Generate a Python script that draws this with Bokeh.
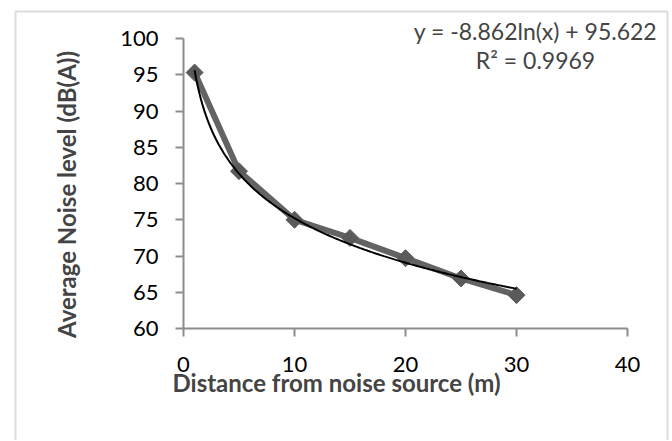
import math
import numpy as np
from bokeh.plotting import figure
from bokeh.models import Range1d, FixedTicker, Label, BoxAnnotation
from bokeh.embed import file_html
from bokeh.resources import INLINE

# data
distance = [1, 5, 10, 15, 20, 25, 30]
noise = [95.3, 81.7, 75.0, 72.5, 69.7, 66.9, 64.6]
x_ticks = [0, 10, 20, 30, 40]
y_ticks = [60, 65, 70, 75, 80, 85, 90, 95, 100]
trend_slope = -8.862
trend_intercept = 95.622
equation_text = "y = -8.862ln(x) + 95.622"
r2_text = "R² = 0.9969"
x_label = "Distance from noise source (m)"
y_label = "Average Noise level (dB(A))"

FONT = "Lato"
AXIS_GRAY = "#8c8c8c"

W, H = 670, 440
# page-pixel layout of the axes box
PX0, PX40 = 183.0, 627.0
PY100, PY60 = 38.0, 328.0
sx = (PX40 - PX0) / 40.0
sy = (PY60 - PY100) / 40.0


def dx(px):
    return (px - PX0) / sx


def dy(py):
    return 60 + (PY60 - py) / sy


p = figure(width=W, height=H, output_backend="svg", toolbar_location=None,
           x_range=Range1d(dx(0), dx(W)), y_range=Range1d(dy(H), dy(0)),
           min_border=0, min_border_left=0, min_border_right=0,
           min_border_top=0, min_border_bottom=0)
p.outline_line_color = None
p.grid.visible = False
p.background_fill_color = "white"
p.border_fill_color = "white"

p.xaxis.fixed_location = 60
p.yaxis.fixed_location = 0
p.xaxis.bounds = (0, 40)
p.yaxis.bounds = (60, 100)

for ax in (p.xaxis[0], p.yaxis[0]):
    ax.axis_line_color = AXIS_GRAY
    ax.axis_line_width = 2
    ax.major_tick_line_color = AXIS_GRAY
    ax.major_tick_line_width = 2
    ax.major_tick_out = 8
    ax.major_tick_in = 0
    ax.minor_tick_line_color = None
    ax.major_label_text_font = FONT
    ax.major_label_text_font_size = "22px"
    ax.major_label_text_color = "black"

p.xaxis.ticker = FixedTicker(ticks=x_ticks)
p.yaxis.ticker = FixedTicker(ticks=y_ticks)
p.xaxis.major_label_standoff = 20
p.yaxis.major_label_standoff = 17

# chart-area border
p.add_layout(BoxAnnotation(left=dx(15), right=dx(667), top=dy(11), bottom=dy(H + 40),
                           fill_color=None, line_color="#8a8a8a", line_width=2))

# trendline from the displayed equation
tx = np.linspace(distance[0], distance[-1], 200)
ty = trend_intercept + trend_slope * np.log(tx)

p.line(distance, noise, line_color="#636363", line_width=6)
p.scatter(distance, noise, marker="square", size=12, angle=math.pi / 4,
          fill_color="#5a5a5a", line_color="#5a5a5a")
p.line(tx, ty, line_color="black", line_width=2)

p.add_layout(Label(x=dx(535), y=dy(30), text=equation_text, text_font=FONT,
                   text_font_size="23px", text_align="center", text_baseline="middle"))
p.add_layout(Label(x=dx(535), y=dy(59), text=r2_text, text_font=FONT,
                   text_font_size="23px", text_align="center", text_baseline="middle"))
p.add_layout(Label(x=dx(172), y=dy(382), text=x_label, text_font=FONT,
                   text_font_size="24px", text_font_style="bold",
                   text_align="left", text_baseline="middle"))
p.add_layout(Label(x=dx(66), y=dy(194), text=y_label, text_font=FONT,
                   text_font_size="24px", text_font_style="bold", angle=math.pi / 2,
                   text_align="center", text_baseline="middle"))

open("out.html", "w").write(file_html(p, INLINE))
